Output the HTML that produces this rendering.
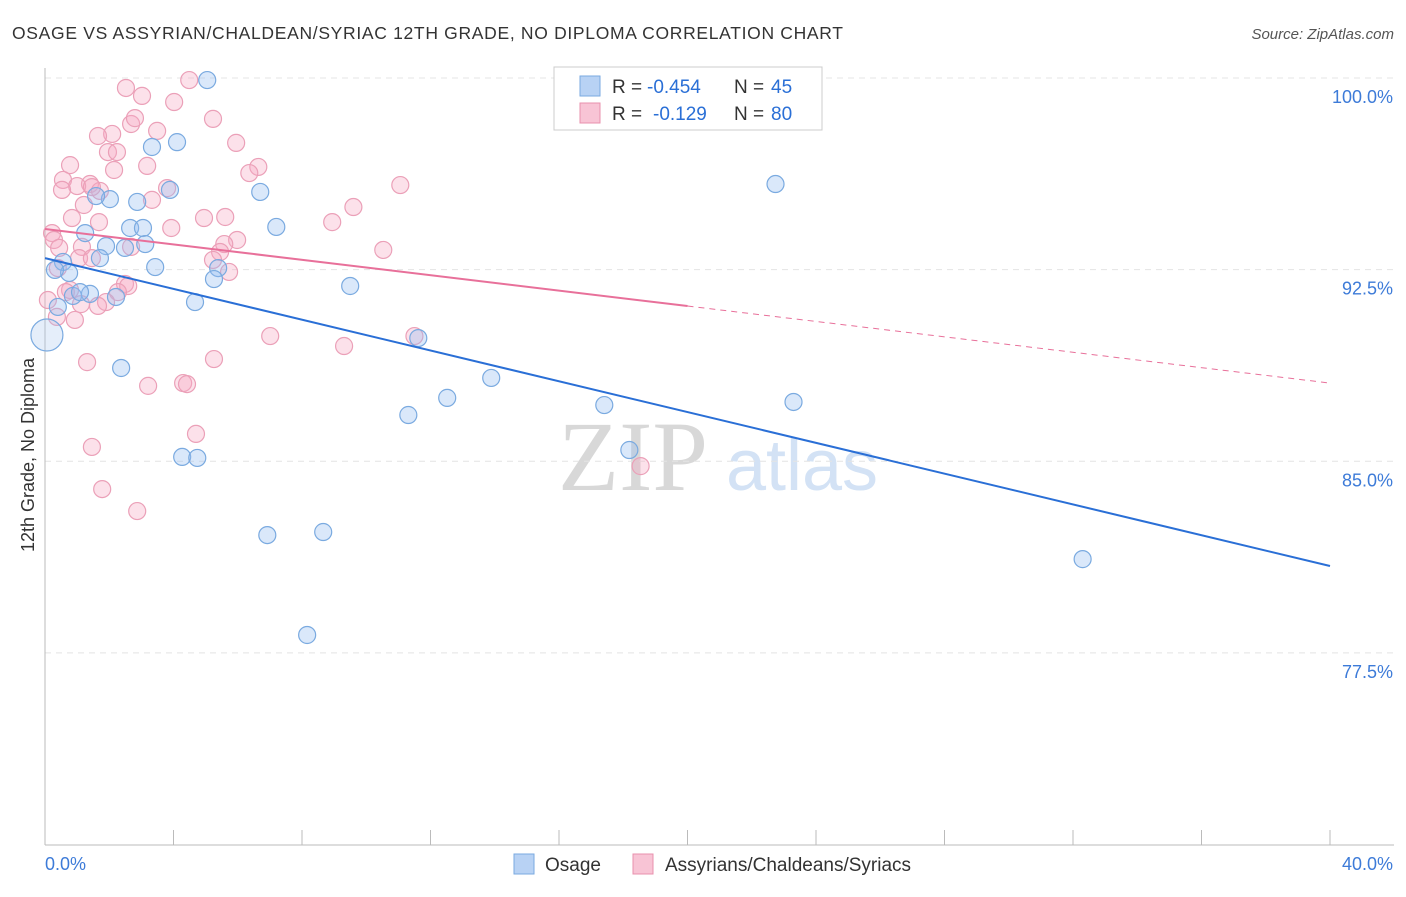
<!DOCTYPE html>
<html><head><meta charset="utf-8">
<style>
body{margin:0;background:#fff;font-family:"Liberation Sans",sans-serif;}
svg text{font-family:"Liberation Sans",sans-serif;}
</style></head>
<body>
<svg id="chart" width="1406" height="892" xmlns="http://www.w3.org/2000/svg">
<text x="12" y="39" font-size="17.5" fill="#333" textLength="831" lengthAdjust="spacing">OSAGE VS ASSYRIAN/CHALDEAN/SYRIAC 12TH GRADE, NO DIPLOMA CORRELATION CHART</text>
<text x="1394" y="39" font-size="15" fill="#555" font-style="italic" text-anchor="end">Source: ZipAtlas.com</text>
<text x="0" y="0" transform="translate(34,455) rotate(-90)" font-size="18" fill="#333" text-anchor="middle">12th Grade, No Diploma</text>
<g>
<text x="633" y="490" font-size="100" fill="#d8d8d8" text-anchor="middle" style="font-family:'Liberation Serif',serif">ZIP</text>
<text x="802" y="490" font-size="72" fill="#d3e2f5" text-anchor="middle">atlas</text>
</g>
<g id="grid"></g>
<g id="axes"></g>
<g id="marks"></g>
<g>
<rect x="554" y="67" width="268" height="63" fill="#fff" stroke="#ccc"/>
<rect x="580" y="76" width="20" height="20" fill="#b8d2f4" stroke="#7aaae0"/>
<rect x="580" y="103" width="20" height="20" fill="#f8c4d5" stroke="#e890ad"/>
<g font-size="19" fill="#333">
<text x="612" y="93">R =</text><text x="647" y="93" fill="#2a6fd6">-0.454</text><text x="734" y="93">N =</text><text x="771" y="93" fill="#2a6fd6">45</text>
</g>
<g font-size="19" fill="#333">
<text x="612" y="120">R =</text><text x="653" y="120" fill="#2a6fd6">-0.129</text><text x="734" y="120">N =</text><text x="771" y="120" fill="#2a6fd6">80</text>
</g>
</g>
<g>
<rect x="514" y="854" width="20" height="20" fill="#b8d2f4" stroke="#7aaae0"/>
<text x="545" y="871" font-size="19" fill="#333">Osage</text>
<rect x="633" y="854" width="20" height="20" fill="#f8c4d5" stroke="#e890ad"/>
<text x="665" y="871" font-size="19" fill="#333">Assyrians/Chaldeans/Syriacs</text>
</g>
</svg>
<script>
const yTicks=[100,92.5,85,77.5];
const yTickLabels=["100.0%","92.5%","85.0%","77.5%"];
const xTicks=[0,4,8,12,16,20,24,28,32,36,40];
const xEndLabels=["0.0%","40.0%"];
const osageX=[5.05,4.11,3.33,3.89,6.70,2.02,2.87,1.59,2.65,3.05,7.20,1.25,1.90,2.49,3.12,1.71,0.56,3.43,5.39,0.75,5.26,9.50,2.21,1.40,0.87,1.09,4.67,0.40,0.06,11.62,2.37,13.89,12.52,11.31,17.41,23.30,18.19,4.27,4.74,6.92,8.66,32.30,8.16,22.74,0.31];
const osageY=[99.92,97.49,97.30,95.62,95.54,95.26,95.15,95.38,94.13,94.13,94.17,93.93,93.42,93.35,93.50,92.95,92.80,92.60,92.56,92.37,92.13,91.86,91.43,91.55,91.47,91.62,91.23,91.04,89.94,89.82,88.65,88.26,87.48,86.81,87.20,87.32,85.44,85.17,85.13,82.11,82.23,81.17,78.20,95.85,92.49];
const assyrX=[4.49,2.52,3.02,4.02,5.23,3.49,2.68,2.80,2.09,1.65,5.95,1.96,2.24,0.78,3.18,6.64,6.36,2.15,0.56,1.40,1.00,0.53,3.80,1.71,1.46,11.06,1.21,3.33,9.60,4.95,5.61,0.84,1.68,8.94,3.93,0.22,0.28,5.98,2.68,5.58,0.44,10.53,1.15,5.45,1.06,1.46,5.23,5.73,0.40,0.78,0.65,2.49,2.59,2.27,1.90,1.12,1.65,0.09,0.93,0.37,11.50,7.01,9.31,5.26,1.31,3.21,4.30,4.42,4.70,1.46,1.78,2.87,18.54];
const assyrY=[99.92,99.61,99.30,99.06,98.40,97.93,98.20,98.43,97.81,97.73,97.46,97.10,97.10,96.59,96.56,96.52,96.28,96.40,96.01,95.85,95.77,95.62,95.69,95.58,95.73,95.81,95.03,95.23,94.95,94.52,94.56,94.52,94.36,94.36,94.13,93.93,93.66,93.66,93.39,93.50,93.35,93.27,93.39,93.19,92.95,92.95,92.88,92.41,92.56,91.70,91.62,91.94,91.86,91.62,91.23,91.15,91.08,91.31,90.53,90.65,89.90,89.90,89.51,89.00,88.88,87.95,88.06,88.02,86.07,85.56,83.91,83.05,84.81];
const osageTrend=[92.95,80.9];
const assyrTrend=[94.09,88.06];
const assyrSolidEnd=20;

const NS="http://www.w3.org/2000/svg";
const X=v=>45+v*32.125;
const Y=v=>78+(100-v)*25.55;
function mk(tag,attrs,parent){const e=document.createElementNS(NS,tag);for(const k in attrs)e.setAttribute(k,attrs[k]);parent.appendChild(e);return e;}
const grid=document.getElementById('grid'),axes=document.getElementById('axes'),marks=document.getElementById('marks');
yTicks.forEach((t,i)=>{
 const l=mk('line',{x1:45,x2:1394,y1:Y(t),y2:Y(t),stroke:'#e4e4e4','stroke-dasharray':'6,5'},grid);
 
 
 const tx=mk('text',{x:1393,y:Y(t)+25,'font-size':18,fill:'#3d7bd8','text-anchor':'end'},axes);
 tx.textContent=yTickLabels[i];
 
 
});
const ax=mk('line',{x1:45,x2:1394,y1:845,y2:845,stroke:'#bbb'},axes);


const ay=mk('line',{x1:45,x2:45,y1:68,y2:845,stroke:'#bbb'},axes);


xTicks.forEach(t=>{
 const l=mk('line',{x1:X(t),x2:X(t),y1:830,y2:845,stroke:'#bbb'},axes);
 
 
});
const xl0=mk('text',{x:45,y:870,'font-size':18,fill:'#3d7bd8'},axes);xl0.textContent=xEndLabels[0];


const xl1=mk('text',{x:1393,y:870,'font-size':18,fill:'#3d7bd8','text-anchor':'end'},axes);xl1.textContent=xEndLabels[1];



assyrX.forEach((x,i)=>{
 const c=mk('circle',{cx:X(x),cy:Y(assyrY[i]),r:8.5,fill:'rgba(245,170,195,0.35)',stroke:'#eba0b8','stroke-width':1.2},marks);
 
 
});
osageX.forEach((x,i)=>{
 const c=mk('circle',{cx:X(x),cy:Y(osageY[i]),r:i==28?16:8.5,fill:i==28?'rgba(170,200,240,0.3)':'rgba(150,190,240,0.35)',stroke:'#7aaae0','stroke-width':1.2},marks);
 
 
});
const bl=mk('line',{x1:X(0),y1:Y(osageTrend[0]),x2:X(40),y2:Y(osageTrend[1]),stroke:'#2a6fd6','stroke-width':2},marks);


const ym=assyrTrend[0]+(assyrTrend[1]-assyrTrend[0])*assyrSolidEnd/40;
const pl=mk('line',{x1:X(0),y1:Y(assyrTrend[0]),x2:X(assyrSolidEnd),y2:Y(ym),stroke:'#e8709a','stroke-width':2},marks);


const pd=mk('line',{x1:X(assyrSolidEnd),y1:Y(ym),x2:X(40),y2:Y(assyrTrend[1]),stroke:'#e8709a','stroke-width':1,'stroke-dasharray':'6,5'},marks);


</script>
</body></html>
